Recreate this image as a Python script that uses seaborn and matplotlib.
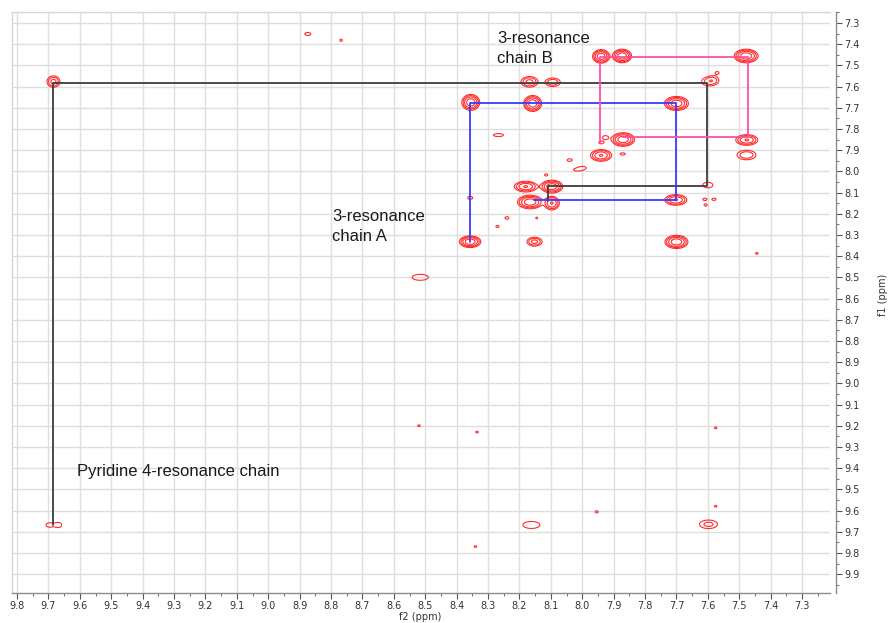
import numpy as np
import pandas as pd
import matplotlib
matplotlib.use("Agg")
import matplotlib.pyplot as plt
from matplotlib.ticker import MultipleLocator, FormatStrFormatter
import seaborn as sns

# ---------------- data (ppm) ----------------
# cross/diagonal peaks: f2, f1, relative intensity, outer-contour width along f2 / f1 (ppm)
peak_f2 = [8.355, 8.158, 7.700, 8.357, 8.152, 7.700, 7.940, 7.873, 7.478, 7.870,
           7.476, 7.940, 7.477, 8.180, 8.097, 8.166, 8.097, 7.702, 7.600, 7.583,
           8.168, 8.094, 7.600, 9.684, 9.698, 9.669, 8.516, 8.162, 7.598, 8.267,
           8.874, 8.768, 8.040, 8.017, 7.998, 8.115, 7.927, 7.940, 7.871, 8.357,
           8.240, 8.270, 8.145, 7.610, 7.580, 7.607, 8.520, 8.335, 7.575, 7.575,
           7.954, 8.340, 7.444, 7.570]
peak_f1 = [7.675, 7.680, 7.680, 8.332, 8.332, 8.333, 7.458, 7.456, 7.456, 7.850,
           7.852, 7.925, 7.923, 8.072, 8.072, 8.145, 8.150, 8.135, 7.577, 7.570,
           7.578, 7.580, 8.065, 7.577, 9.668, 9.668, 8.500, 9.668, 9.665, 7.829,
           7.352, 7.382, 7.947, 7.993, 7.983, 8.017, 7.840, 7.865, 7.918, 8.125,
           8.220, 8.260, 8.220, 8.132, 8.132, 8.159, 9.200, 9.230, 9.210, 9.580,
           9.606, 9.770, 8.387, 7.535]
peak_amp = [9, 9, 9, 9, 4, 9, 9, 9, 9, 9,
            6, 6, 3, 6, 9, 9, 6, 6, 2, 2,
            4, 3, 1.6, 4, 1.5, 1.5, 1.8, 1.8, 2.2, 1.3,
            1.3, 1.15, 1.2, 1.2, 1.2, 1.2, 1.3, 1.2, 1.2, 1.3,
            1.2, 1.2, 1.15, 1.2, 1.2, 1.2, 1.15, 1.15, 1.15, 1.15,
            1.15, 1.15, 1.15, 1.2]
peak_wf2 = [0.057, 0.057, 0.076, 0.068, 0.048, 0.073, 0.054, 0.060, 0.076, 0.073,
            0.070, 0.067, 0.060, 0.073, 0.070, 0.080, 0.048, 0.070, 0.038, 0.032,
            0.054, 0.048, 0.032, 0.041, 0.019, 0.022, 0.051, 0.054, 0.057, 0.032,
            0.019, 0.008, 0.016, 0.019, 0.016, 0.010, 0.016, 0.014, 0.016, 0.016,
            0.012, 0.010, 0.006, 0.012, 0.012, 0.010, 0.008, 0.008, 0.008, 0.008,
            0.010, 0.008, 0.008, 0.010]
peak_wf1 = [0.075, 0.075, 0.066, 0.055, 0.042, 0.062, 0.064, 0.064, 0.064, 0.064,
            0.050, 0.055, 0.045, 0.050, 0.060, 0.064, 0.064, 0.050, 0.035, 0.035,
            0.050, 0.040, 0.026, 0.054, 0.019, 0.024, 0.028, 0.033, 0.040, 0.014,
            0.014, 0.010, 0.012, 0.010, 0.010, 0.010, 0.016, 0.010, 0.010, 0.014,
            0.012, 0.010, 0.008, 0.010, 0.010, 0.010, 0.008, 0.008, 0.008, 0.008,
            0.010, 0.008, 0.008, 0.010]

# correlation chains
chain_pyr_f2 = [9.687, 9.687, 7.603, 7.603, 8.108, 8.108]
chain_pyr_f1 = [9.667, 7.582, 7.582, 8.068, 8.068, 8.140]
chain_a_f2 = [8.357, 8.357, 7.700, 7.700, 8.155]
chain_a_f1 = [8.332, 7.679, 7.679, 8.135, 8.135]
chain_b_f2 = [7.943, 7.943, 7.472, 7.472, 7.871]
chain_b_f1 = [7.865, 7.462, 7.462, 7.840, 7.840]

# ---------------- figure ----------------
sns.set_theme(style="white")
plt.rcParams["font.family"] = ["DejaVu Sans"]

W, H = 888, 623
fig = plt.figure(figsize=(W / 100, H / 100), dpi=100)
ax = fig.add_axes([11.7 / W, 1 - 593 / H, (830 - 11.7) / W, (593 - 12.3) / H])

# spectrum surface built from the peak list
gx = np.linspace(7.20, 9.83, 1500)
gy = np.linspace(7.24, 10.0, 1500)
Z = np.zeros((gy.size, gx.size))
for f2, f1, a, w2, w1 in zip(peak_f2, peak_f1, peak_amp, peak_wf2, peak_wf1):
    k = np.sqrt(2 * np.log(a))
    s2, s1 = (w2 / 2) / k, (w1 / 2) / k
    Z += a * np.outer(np.exp(-(gy - f1) ** 2 / (2 * s1 ** 2)),
                      np.exp(-(gx - f2) ** 2 / (2 * s2 ** 2)))

levels = [1.0, 1.8, 3.2, 5.7]
ax.contour(gx, gy, Z, levels=levels, colors="#ff2b2b", linewidths=0.8, zorder=3)

chains = [
    (chain_pyr_f2, chain_pyr_f1, "#3c3c3c"),
    (chain_a_f2, chain_a_f1, "#3a3aff"),
    (chain_b_f2, chain_b_f1, "#ff4f9e"),
]
for cx, cy, col in chains:
    df = pd.DataFrame({"f2": cx, "f1": cy})
    sns.lineplot(data=df, x="f2", y="f1", sort=False, estimator=None,
                 color=col, linewidth=1.3, ax=ax, zorder=4)

ax.set_xlim(9.817, 7.211)
ax.set_ylim(9.989, 7.25)

ax.xaxis.set_major_locator(MultipleLocator(0.1))
ax.xaxis.set_minor_locator(MultipleLocator(0.05))
ax.yaxis.set_major_locator(MultipleLocator(0.1))
ax.yaxis.set_minor_locator(MultipleLocator(0.05))
ax.xaxis.set_major_formatter(FormatStrFormatter("%.1f"))
ax.yaxis.set_major_formatter(FormatStrFormatter("%.1f"))

ax.grid(True, which="major", color="#dedede", linewidth=1.0, zorder=0)
ax.set_axisbelow(True)

ax.yaxis.tick_right()
ax.tick_params(axis="both", which="major", length=4, width=0.8, color="#555555",
               labelsize=7, labelcolor="#333333", pad=2, bottom=True, right=True,
               left=False, top=False)
ax.tick_params(axis="both", which="minor", length=2, width=0.6, color="#555555",
               bottom=True, right=True, left=False, top=False)

for side in ["top", "left"]:
    ax.spines[side].set_color("#d6d6d6")
    ax.spines[side].set_linewidth(1.0)
ax.spines["right"].set_position(("outward", 4))
ax.spines["right"].set_color("#8c8c8c")
ax.spines["right"].set_linewidth(1.0)
ax.spines["bottom"].set_color("#8c8c8c")
ax.spines["bottom"].set_linewidth(1.0)

ax.set_xlabel("")
ax.set_ylabel("")
fig.text(420 / W, 1 - 617 / H, "f2 (ppm)", fontsize=7, color="#333333",
         ha="center", va="center")
fig.text(883 / W, 1 - 295 / H, "f1 (ppm)", fontsize=7, color="#333333",
         ha="center", va="center", rotation=90)

txt_kw = dict(fontsize=12, color="#1a1a1a", family=["Liberation Sans", "DejaVu Sans"],
              ha="left", va="baseline", linespacing=1.42)
fig.text(497 / W, 1 - 63 / H, "3-resonance\nchain B", **txt_kw)
fig.text(332 / W, 1 - 241 / H, "3-resonance\nchain A", **txt_kw)
fig.text(77 / W, 1 - 476 / H, "Pyridine 4-resonance chain", **txt_kw)

fig.savefig("out.png", dpi=100)
